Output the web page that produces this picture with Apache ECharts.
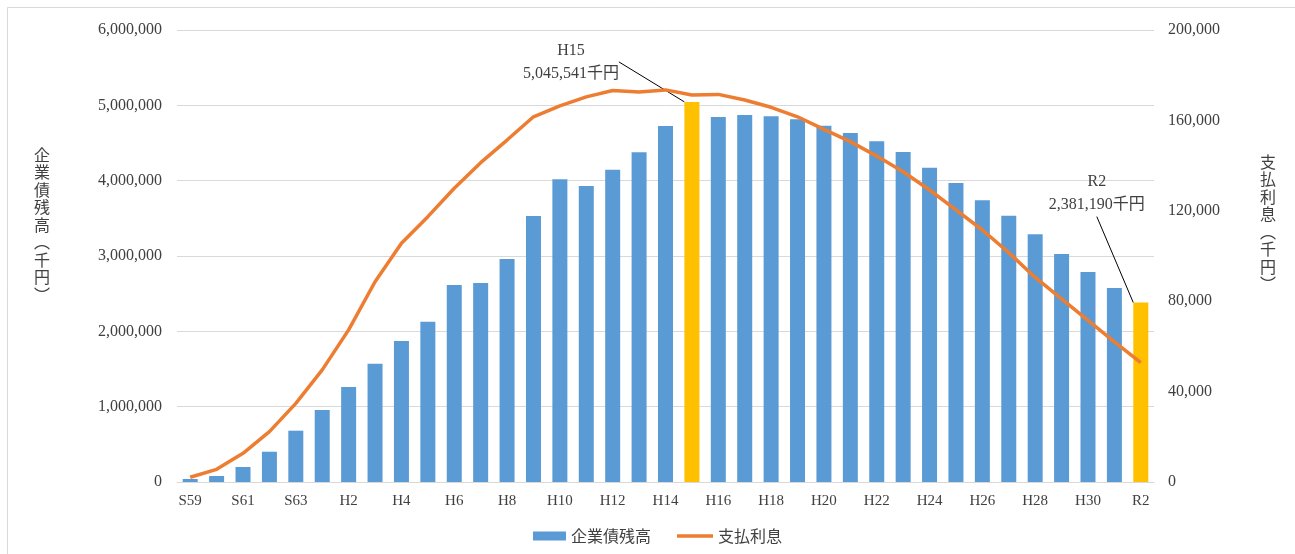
<!DOCTYPE html>
<html>
<head>
    <meta charset="utf-8">
    <title>企業債残高と支払利息</title>
    <script src="https://cdn.jsdelivr.net/npm/echarts@6/dist/echarts.min.js"></script>
    <style>
        body { margin: 0; background: #fff; }
        #chart { width: 1295px; height: 554px; }
    </style>
</head>
<body>
    <div id="chart"></div>
    <script>
        // 年度
        var categories = ['S59', 'S60', 'S61', 'S62', 'S63',
            'H1', 'H2', 'H3', 'H4', 'H5', 'H6', 'H7', 'H8', 'H9', 'H10',
            'H11', 'H12', 'H13', 'H14', 'H15', 'H16', 'H17', 'H18', 'H19', 'H20',
            'H21', 'H22', 'H23', 'H24', 'H25', 'H26', 'H27', 'H28', 'H29', 'H30',
            'R1', 'R2'];

        // 企業債残高（千円）
        var bondBalance = [40000, 80000, 199000, 402000, 681000,
            956000, 1261000, 1571000, 1872000, 2128000, 2615000, 2642000, 2960000, 3531000, 4020000,
            3930000, 4146000, 4377000, 4726000, 5045541, 4845000, 4872000, 4854000, 4814000, 4730000,
            4633000, 4523000, 4381000, 4173000, 3969000, 3739000, 3535000, 3288000, 3027000, 2788000,
            2575000, 2381190];

        // 支払利息（千円）
        var interest = [2100, 5600, 12700, 22300, 34800,
            49600, 67300, 88600, 105600, 117400, 130000, 141300, 151300, 161600, 166400,
            170400, 173200, 172600, 173500, 171200, 171500, 169000, 165800, 161600, 156000,
            150600, 144200, 137300, 129200, 120400, 111500, 101500, 90500, 81000, 71500,
            62000, 52800];

        // 強調する年度と注記の移動量
        var highlight = ['H15', 'R2'];
        var noteShift = { H15: { dx: -121, dy: -12 }, R2: { dx: -44, dy: -81 } };

        var serif = '"Liberation Serif", "Noto Sans CJK JP", serif';
        var textColor = '#404040';

        function fmt(v) {
            return Number(v).toLocaleString('en-US');
        }

        var barData = bondBalance.map(function (v, i) {
            var item = { value: v };
            if (highlight.indexOf(categories[i]) >= 0) {
                item.itemStyle = { color: '#FFC000' };
                item.label = {
                    show: true,
                    formatter: categories[i] + '\n' + fmt(v) + '千円'
                };
            }
            return item;
        });

        var chart = echarts.init(document.getElementById('chart'));

        chart.setOption({
            animation: false,
            grid: { left: 177, right: 141, top: 30, bottom: 72 },
            graphic: [
                {
                    type: 'rect',
                    shape: { x: 7.5, y: 7.5, width: 1300, height: 560 },
                    style: { fill: 'none', stroke: '#d9d9d9', lineWidth: 1 },
                    silent: true
                },
                {
                    type: 'text',
                    left: 34, top: 146,
                    style: {
                        text: '企\n業\n債\n残\n高\n︵\n千\n円\n︶',
                        font: '16px "Noto Sans CJK JP"',
                        lineHeight: 17.5,
                        fill: textColor
                    }
                },
                {
                    type: 'text',
                    left: 1260, top: 153,
                    style: {
                        text: '支\n払\n利\n息\n︵\n千\n円\n︶',
                        font: '16px "Noto Sans CJK JP"',
                        lineHeight: 17.5,
                        fill: textColor
                    }
                }
            ],
            legend: [
                {
                    bottom: 10,
                    left: 533,
                    padding: 0,
                    icon: 'rect',
                    itemWidth: 33,
                    itemHeight: 9,
                    textStyle: { fontFamily: '"Noto Sans CJK JP"', fontSize: 16, color: textColor },
                    data: ['企業債残高']
                },
                {
                    bottom: 10,
                    left: 677,
                    padding: 0,
                    icon: 'rect',
                    itemWidth: 36,
                    itemHeight: 3.5,
                    textStyle: { fontFamily: '"Noto Sans CJK JP"', fontSize: 16, color: textColor },
                    data: ['支払利息']
                }
            ],
            xAxis: {
                type: 'category',
                data: categories,
                axisTick: { show: false },
                axisLine: { lineStyle: { color: '#d9d9d9', width: 1 } },
                axisLabel: {
                    interval: 1,
                    margin: 12,
                    fontFamily: serif,
                    fontSize: 15,
                    color: textColor
                }
            },
            yAxis: [
                {
                    type: 'value',
                    min: 0,
                    max: 6000000,
                    interval: 1000000,
                    axisLine: { show: false },
                    axisTick: { show: false },
                    splitLine: { lineStyle: { color: '#d9d9d9', width: 1 } },
                    axisLabel: {
                        margin: 15,
                        fontFamily: serif,
                        fontSize: 16,
                        color: textColor,
                        formatter: fmt
                    }
                },
                {
                    type: 'value',
                    min: 0,
                    max: 200000,
                    interval: 40000,
                    axisLine: { show: false },
                    axisTick: { show: false },
                    splitLine: { show: false },
                    axisLabel: {
                        margin: 14,
                        fontFamily: serif,
                        fontSize: 16,
                        color: textColor,
                        formatter: fmt
                    }
                }
            ],
            series: [
                {
                    name: '企業債残高',
                    type: 'bar',
                    yAxisIndex: 0,
                    barWidth: 15,
                    itemStyle: { color: '#5B9BD5' },
                    label: {
                        position: 'top',
                        fontFamily: serif,
                        fontSize: 16,
                        lineHeight: 23,
                        color: textColor,
                        align: 'center'
                    },
                    labelLine: {
                        show: true,
                        lineStyle: { color: '#000', width: 1 }
                    },
                    labelLayout: function (params) {
                        var s = noteShift[categories[params.dataIndex]];
                        return s ? { dx: s.dx, dy: s.dy } : {};
                    },
                    data: barData
                },
                {
                    name: '支払利息',
                    type: 'line',
                    yAxisIndex: 1,
                    symbol: 'none',
                    lineStyle: { color: '#ED7D31', width: 3.5 },
                    itemStyle: { color: '#ED7D31' },
                    z: 3,
                    data: interest
                }
            ]
        });
    </script>
</body>
</html>
